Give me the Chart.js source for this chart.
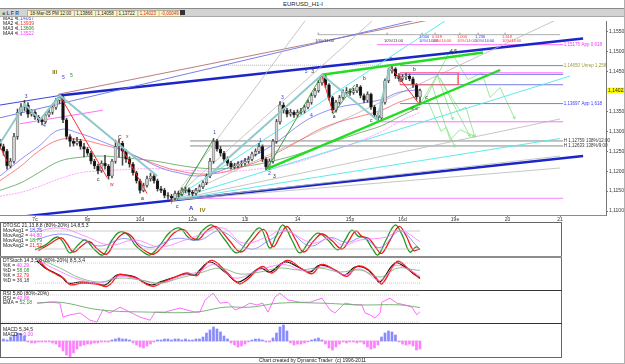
<!DOCTYPE html>
<html>
<head>
<meta charset="utf-8">
<title>EURUSD_H1-I</title>
<script src="https://cdn.jsdelivr.net/npm/chart.js@4.4.1/dist/chart.umd.min.js"></script>
<style>
  body { margin: 0; background: #fff; }
  #wrap { position: relative; width: 625px; height: 364px; overflow: hidden; background: #fff;
          font-family: "Liberation Sans", Arial, sans-serif; }
  #wrap div, #wrap canvas { position: absolute; }
  .tiny { font-size: 5px; line-height: 6px; white-space: nowrap; color: #222; }
</style>
</head>
<body>
<div id="wrap">
  <div class="tiny" style="left:0;top:1px;width:606px;text-align:center;font-size:6px;">EURUSD_H1-I</div>
  <div style="left:0;top:8px;width:625px;height:1px;background:#8a8a8a"></div>
  <div style="left:0;top:9px;width:625px;height:7px;background:#d3d3d3;border-bottom:1px solid #a8a8a8"></div>
  <div class="tiny" style="left:2px;top:10px;color:#2a4aa8;font-weight:bold"><span style="color:#3a8a3a">&#9632;</span> L F R</div>
  <div class="tiny" style="left:27px;top:10px;width:150px;height:5px;background:#fbf5cc;border:1px solid #b9b195;font-size:4.5px;line-height:5px;padding-left:2px">18-Mar-05 PM 12:00 &nbsp;| 1,13866 &nbsp;| 1,14058 &nbsp;| 1,13722 &nbsp;| <span style="color:#e02020">1,14023 &nbsp;| -0,00049</span></div>
  <div style="left:180px;top:10px;width:5px;height:5px;background:#333"></div>

  <canvas id="main" width="625" height="206" style="left:0;top:17px"></canvas>
  <canvas id="osc1" width="561" height="34" style="left:0;top:223px"></canvas>
  <canvas id="osc2" width="561" height="34" style="left:0;top:257px"></canvas>
  <canvas id="rsi" width="561" height="33" style="left:0;top:291px"></canvas>
  <canvas id="macd" width="561" height="33" style="left:0;top:324px"></canvas>

  <div style="left:0;top:222px;width:560px;height:134px;border:1px solid #666"></div>
  <div style="left:0;top:256px;width:562px;height:2px;background:#8c8c8c"></div>
  <div style="left:0;top:290px;width:562px;height:1px;background:#333"></div>
  <div style="left:0;top:323px;width:562px;height:1px;background:#333"></div>
  <div class="tiny" style="left:0;top:357px;width:625px;text-align:center;">Chart created by Dynamic Trader &nbsp;(c) 1996-2011</div>
  <div style="left:624px;top:0;width:1px;height:364px;background:#b0b0b0"></div>
  <div style="left:0;top:363px;width:625px;height:1px;background:#b0b0b0"></div>
</div>

<script>
// ---- price bars (hourly), one per index ----
const firstOpen = 1.1270;
const closes = [
  1.1262,1.1250,1.1213,1.1225,1.1287,1.1348,1.1361,1.1366,1.1343,1.1348,
  1.1336,1.1329,1.1324,1.1341,1.1348,1.1361,1.1378,1.1385,1.1329,1.1287,
  1.1275,1.1270,1.1275,1.1262,1.1255,1.1245,1.1225,1.1213,1.1201,1.1220,
  1.1213,1.1188,1.1225,1.1262,1.1270,1.1250,1.1230,1.1218,1.1196,1.1176,
  1.1152,1.1164,1.1181,1.1188,1.1176,1.1156,1.1152,1.1139,1.1137,1.1132,
  1.1144,1.1142,1.1152,1.1154,1.1147,1.1144,1.1152,1.1161,1.1171,1.1188,
  1.1225,1.1275,1.1255,1.1245,1.1230,1.1220,1.1211,1.1213,1.1218,1.1220,
  1.1225,1.1230,1.1243,1.1250,1.1262,1.1230,1.1211,1.1225,1.1275,1.1324,
  1.1366,1.1353,1.1343,1.1348,1.1341,1.1348,1.1351,1.1361,1.1373,1.1390,
  1.1402,1.1422,1.1437,1.1417,1.1385,1.1353,1.1373,1.1385,1.1398,1.1402,
  1.1398,1.1402,1.1412,1.1390,1.1378,1.1393,1.1361,1.1341,1.1334,1.1373,
  1.1427,1.1452,1.1457,1.1439,1.1432,1.1437,1.1439,1.1432,1.1417,1.13866,
  1.14023
];
const highs = [
  1.1280,1.1268,1.1255,1.1232,1.1295,1.1356,1.1370,1.1378,1.1372,1.1355,
  1.1352,1.1340,1.1334,1.1346,1.1355,1.1367,1.1383,1.1392,1.1388,1.1333,
  1.1292,1.1282,1.1285,1.1280,1.1270,1.1260,1.1250,1.1230,1.1218,1.1226,
  1.1240,1.1217,1.1230,1.1278,1.1280,1.1275,1.1255,1.1236,1.1222,1.1200,
  1.1180,1.1170,1.1188,1.1195,1.1192,1.1180,1.1162,1.1157,1.1146,1.1142,
  1.1150,1.1150,1.1158,1.1160,1.1158,1.1152,1.1157,1.1166,1.1176,1.1193,
  1.1232,1.1282,1.1280,1.1262,1.1250,1.1236,1.1225,1.1220,1.1224,1.1226,
  1.1232,1.1237,1.1248,1.1256,1.1270,1.1266,1.1234,1.1231,1.1280,1.1330,
  1.1375,1.1372,1.1358,1.1355,1.1352,1.1354,1.1358,1.1366,1.1379,1.1396,
  1.1408,1.1428,1.1443,1.1441,1.1420,1.1388,1.1378,1.1390,1.1404,1.1410,
  1.1407,1.1408,1.1418,1.1415,1.1394,1.1399,1.1396,1.1365,1.1346,1.1378,
  1.1432,1.1458,1.1465,1.1460,1.1445,1.1442,1.1446,1.1444,1.1436,1.1420,
  1.14058
];
const lows = [
  1.1255,1.1240,1.1205,1.1208,1.1220,1.1280,1.1340,1.1352,1.1335,1.1338,
  1.1330,1.1322,1.1316,1.1320,1.1336,1.1343,1.1355,1.1370,1.1322,1.1280,
  1.1262,1.1263,1.1265,1.1255,1.1236,1.1240,1.1218,1.1206,1.1193,1.1197,
  1.1205,1.1180,1.1183,1.1220,1.1235,1.1215,1.1222,1.1210,1.1190,1.1170,
  1.1145,1.1148,1.1160,1.1175,1.1170,1.1150,1.1146,1.1133,1.1130,1.1127,
  1.1128,1.1136,1.1138,1.1146,1.1140,1.1138,1.1140,1.1148,1.1156,1.1166,
  1.1184,1.1220,1.1250,1.1238,1.1224,1.1214,1.1205,1.1206,1.1208,1.1212,
  1.1215,1.1220,1.1226,1.1238,1.1245,1.1224,1.1203,1.1205,1.1220,1.1270,
  1.1318,1.1346,1.1336,1.1338,1.1335,1.1336,1.1343,1.1346,1.1356,1.1368,
  1.1385,1.1398,1.1416,1.1410,1.1378,1.1346,1.1348,1.1368,1.1380,1.1392,
  1.1390,1.1393,1.1397,1.1384,1.1372,1.1373,1.1355,1.1335,1.1328,1.1330,
  1.1368,1.1422,1.1446,1.1433,1.1426,1.1428,1.1430,1.1427,1.1410,1.1380,
  1.13722
];
const lastPrice = 1.14023;

// ---- axes ----
const dayTicks = [10, 25, 40, 55, 70, 85, 100, 115, 130, 145, 160];
const dayLabels = ['7c', '9p', '10d', '12a', '13l', '14', '15p', '16d', '19e', '20', '21'];
const priceTicks = [1.110, 1.115, 1.120, 1.125, 1.130, 1.135, 1.140, 1.145, 1.150, 1.155];

// ---- moving averages (sampled) ----
const maIdx = [0,6,11,17,23,29,34,40,46,51,57,63,69,74,80,86,91,97,103,109,114,120];
const ma1 = [1.1188,1.1230,1.1262,1.1304,1.1294,1.1275,1.1257,1.1233,1.1208,1.1196,1.1188,1.1201,1.1225,1.1245,1.1279,1.1319,1.1343,1.1361,1.1370,1.1380,1.1398,1.1405];
const ma2 = [1.1176,1.1213,1.1250,1.1279,1.1279,1.1267,1.1255,1.1233,1.1213,1.1201,1.1193,1.1196,1.1211,1.1225,1.1250,1.1279,1.1304,1.1324,1.1338,1.1353,1.1373,1.1390];
const ma3 = [1.1152,1.1171,1.1196,1.1225,1.1235,1.1238,1.1235,1.1230,1.1223,1.1215,1.1208,1.1206,1.1211,1.1218,1.1230,1.1245,1.1262,1.1279,1.1297,1.1314,1.1336,1.1361];
const ma4 = [1.1137,1.1147,1.1161,1.1181,1.1196,1.1201,1.1203,1.1206,1.1206,1.1203,1.1201,1.1198,1.1201,1.1206,1.1213,1.1225,1.1240,1.1257,1.1277,1.1299,1.1324,1.1348];
const maLegend = ['1,14057', '1,13939', '1,13606', '1,13522'];

// ---- drawing tools: [index, price] ----
const chanUpperThin = [[0, 1.1366], [17.1, 1.1390]];
const chanUpper = [[17.1, 1.1390], [166.6, 1.1533]];
const chanLower = [[0, 1.1080], [166.6, 1.1238]];
const blueRay = [[0, 1.1334], [120, 1.1582]];
const brownRay = [[16.6, 1.1393], [124, 1.1582]];
const fanOrigin = [49.1, 1.1127];
const fanGrayEnds = [[160, 1.1208], [160, 1.1238], [160, 1.1331], [159.4, 1.1582], [87.1, 1.1577], [106.3, 1.1577]];
const fanCyanEnds = [[162.9, 1.1439], [127.1, 1.1577], [160, 1.1282]];
const greenLower = [[76.3, 1.1206], [142.9, 1.1454]];
const greenUpper = [[92, 1.1442], [138, 1.1498]];
const tealLeft = [[0, 1.1270], [7.1, 1.1368], [11.4, 1.1329], [17.1, 1.1390], [44.9, 1.1188]];
const tealRight = [[58.6, 1.1181], [92, 1.1442], [107.7, 1.1329], [111.4, 1.1464]];
const redLegs = [
  [[0, 1.1262], [2, 1.1225]],
  [[17.1, 1.1390], [30.6, 1.1184]],
  [[33.7, 1.1275], [42, 1.1144]],
  [[92, 1.1439], [95.1, 1.1348]],
  [[111.4, 1.1464], [120, 1.1366]]
];
const redBox = [[114.3, 1.1447], [130.9, 1.1447], [130.9, 1.1417], [114.3, 1.1417]];
const greenLegs = [
  [[50.6, 1.1127], [60.9, 1.1279]],
  [[76.3, 1.1206], [92, 1.1442]],
  [[95.1, 1.1343], [101.4, 1.1417]]
];
const pinkSlope = [[5.7, 1.1319], [29.4, 1.1353]];
const projPaths = [
  [[120, 1.1368], [124.9, 1.1442], [129.4, 1.1329]],
  [[121.1, 1.1373], [128.6, 1.1503], [133.7, 1.1430], [137.7, 1.1447], [140, 1.1385], [142.9, 1.1410], [147.1, 1.1331]],
  [[123.4, 1.1417], [128.6, 1.1279], [131.4, 1.1304], [135.7, 1.1287]],
  [[125.7, 1.1434], [134.3, 1.1287]],
  [[124.9, 1.1442], [131.4, 1.1353], [133.1, 1.1361], [135.7, 1.1285]],
  [[122, 1.1380], [126, 1.1300], [127.5, 1.1310], [130, 1.1260]]
];
const dottedLevel = [[62.9, 1.1466], [114.3, 1.1466]];
const projBase = [[90.9, 1.15427], [160, 1.15427]];

// ---- horizontal levels ----
const levelPrices = [1.15175, 1.1465, 1.1447, 1.1443, 1.1417, 1.13697, 1.1324, 1.12759, 1.12633, 1.1132];
const levelFrom = [107.7, 114.3, 114.3, 114.3, 114.3, 114.3, 108.6, 54.3, 54.3, 54.3];
const levelTo = 160.9;
const levelLabels = ['1,15175 App 0,618', '1,14650 Unrep 1,258', '', '', '', '1,13697 App 1,618', '', 'H 1,12759 138%/12:00', 'H 1,12633 138%/9:00', ''];

// ---- time projection markers ----
const projX = [90.9, 110.6, 120.6, 124.3, 131.4, 136.6, 144.3];
const projTop = ['', '', '1,000', '0,618', '1,000', '1,236', '1,618'];
const projBottom = ['10%/11:00', '10%/11:00', '10%/14:00', '10%/14:00', '10%/14:00', '10%/14:00', '10%/14:00'];

// ---- wave labels ----
const waveText = ['3','4','III','5','5','c','w','C','x','a','Y','c','A','IV','1','1','2','3','3','4','5','3','a','b','c','5','a','b','c','abc','4 5'];
const waveX = [7.1,12.3,14.9,17.7,20,27.7,31.4,33.7,36,40.3,48.6,50.3,54,57.1,60.9,74,76.6,78,80.3,88.6,87.1,88.9,95.1,103.7,105.7,111.4,114.3,118,121.5,117.2,128.6];
const waveY = [1.1388,1.1314,1.1447,1.1434,1.1439,1.1179,1.1166,1.1284,1.1287,1.1132,1.1120,1.1112,1.1107,1.1102,1.1297,1.1277,1.1193,1.1186,1.1385,1.1339,1.1449,1.1449,1.1336,1.1432,1.1326,1.1481,1.1427,1.1454,1.1385,1.1356,1.1501];

// ---- DTOSC panel ----
const oscFastIdx = [10,12.9,16.3,18,20,22.3,24.3,27.1,29.4,32,34.3,36.6,38.6,40.9,42.9,45.7,48.6,51.4,53.7,55.7,58,60.6,64.3,67.7,70.9,74.3,77.1,78.9,80.9,83.4,85.7,88.6,90.9,93.7,96.6,98.6,100.6,102.3,104.3,106.3,108,110.3,112.9,114.9,117.1,118.9,120];
const oscFast = [17,33,60,43,7,33,50,17,0,50,77,67,33,10,0,33,77,90,60,50,83,100,50,7,50,90,23,63,100,50,7,50,73,50,17,50,83,63,57,23,0,50,100,67,10,27,18.79];
const oscSlowIdx = [11,14,17.5,19,21,23.3,25.5,28,30.5,33,35.5,37.5,39.5,42,44,46.8,49.7,52.5,54.8,56.8,59,61.7,65.4,68.8,72,75.4,78,80,82,84.5,86.8,89.7,92,94.8,97.7,99.7,101.7,103.4,105.4,107.4,109,111.4,114,116,118.2,120];
const oscSlow = [15,35,57,40,10,30,45,18,3,47,73,63,32,10,3,33,73,85,58,52,80,95,50,10,48,85,28,62,95,50,10,48,70,48,20,48,80,62,55,25,5,48,95,65,15,21.52];
const oscAvg1Idx = [10,17.1,22.9,28.6,35.7,42.9,50,57.1,62.9,71.4,77.1,82,88.6,94.3,99.1,103.7,108.6,114.3,119.1,120];
const oscAvg1 = [50,70,55,30,55,25,55,50,80,20,50,80,30,58,42,58,25,80,30,18.75];
const oscAvg2Idx = [10,17.1,24.3,31.4,38.6,45.7,52.9,57.1,63.7,69.4,76.3,80.9,89.4,94.3,98,102.9,110.6,114.3,120];
const oscAvg2 = [77,90,63,33,50,27,50,67,90,40,60,83,40,57,33,50,60,83,44.8];

// ---- DTStoch panel ----
const stDIdx = [10.6,12.9,15.7,17.7,19.4,22.9,27.1,30,32.3,33.4,35.7,38.6,40.9,43.4,45.7,50,52.9,55.7,57.1,60,64.3,67.7,70,74.3,77.1,81.4,85.7,88.6,91.4,95.7,98.6,101.4,104.3,107.1,108.6,112.9,115.7,118.6,120];
const stD = [86,65,50,38,20,23,20,14,35,44,44,38,23,14,23,38,47,44,59,83,53,23,32,65,53,83,65,53,74,59,44,68,65,38,23,80,68,44,36.18];
const stKIdx = [11,13.5,16.3,18.3,20,23.5,27.7,30.6,32.9,34,36.3,39.2,41.5,44,46.3,50.6,53.5,56.3,57.7,60.6,65,68.3,70.6,75,77.7,82,86.3,89.2,92,96.3,99.2,102,105,107.7,109.2,113.5,116.3,119.2,120];
const stK = [90,62,45,33,15,20,17,10,33,46,42,34,18,10,22,40,50,42,62,88,50,18,30,70,50,88,62,48,76,55,40,70,62,32,18,85,66,40,32.79];
const stSlowDIdx = [10.6,17.1,22.9,28.6,34.3,40,45.7,51.4,57.1,62.9,68.6,74.3,80,85.7,91.4,97.1,102.9,108.6,113.7,118.6,120];
const stSlowD = [95,65,35,23,35,29,20,35,50,65,47,53,65,59,65,53,59,38,65,59,58.08];
const stSlowKIdx = [10.6,17.1,22.9,28.6,34.3,40,45.7,51.4,57.1,61.4,67.1,74.3,81.4,87.1,92.9,98.6,102.9,108.6,112.9,117.1,120];
const stSlowK = [90,55,30,20,40,30,18,40,55,75,35,60,75,55,68,45,62,28,72,58,40.29];

// ---- RSI panel ----
const rsiIdx = [10.6,14.3,17.1,18,20,22.9,25.7,27.7,29.4,31.4,34.3,37.1,40,42.9,44.3,47.1,51.4,55.7,57.1,58.6,60.9,62.9,65.1,67.1,69.4,71.4,73.4,75.1,76.6,78.6,80,82.3,85.7,88.6,92,94.3,95.7,98.6,101.4,103.4,104.3,105.7,107.1,108.6,109.1,111.4,113.4,115.7,117.7,119.1,120];
const rsiVals = [62,64,62,31,36,40,24,20,47,40,53,42,31,24,42,42,51,42,42,69,84,62,64,47,53,62,58,62,42,76,84,69,64,64,73,47,40,62,58,58,40,36,29,40,64,73,62,58,53,36,42.86];
const emaIdx = [10.6,17.1,28.6,42.9,55.7,64.3,71.4,80,91.4,102.9,114.3,120];
const emaVals = [62,64,47,42,42,53,53,62,62,58,58,52.18];

// ---- MACD histogram, one per bar ----
const macdHist = [
  0.0001,0.0002,0.0001,
  0.0004,0.0006,0.0008,0.0007,0.0005,
  -0.0001,-0.0002,-0.0002,-0.0001,-0.0001,-0.0001,
  -0.0001,-0.0002,-0.0003,
  -0.0006,-0.0010,-0.0014,-0.0016,-0.0012,-0.0008,-0.0005,
  -0.0004,-0.0003,-0.0003,-0.0002,-0.0002,-0.0001,-0.0001,-0.0001,
  0.0001,0.0002,0.0003,0.0002,0.0002,0.0001,
  -0.0002,-0.0004,-0.0006,-0.0007,-0.0005,-0.0003,-0.0001,
  0.0001,0.0001,0.0002,0.0002,0.0001,0.0002,0.0002,0.0001,0.0002,0.0001,0.0001,0.0002,0.0002,
  0.0004,0.0008,0.0011,0.0014,0.0012,0.0009,0.0005,0.0002,
  -0.0002,-0.0004,-0.0006,-0.0005,-0.0003,-0.0001,
  0.0001,0.0002,0.0002,0.0001,
  -0.0001,-0.0001,
  0.0003,0.0008,0.0014,0.0016,0.0010,
  -0.0002,-0.0004,-0.0003,-0.0003,-0.0002,-0.0001,
  0.0001,0.0002,0.0003,0.0001,
  -0.0003,-0.0007,-0.0009,-0.0006,-0.0003,
  -0.0001,-0.0002,-0.0001,-0.0001,-0.0002,-0.0001,
  -0.0003,-0.0006,-0.0008,-0.0007,-0.0004,
  0.0004,0.0008,0.0010,0.0009,0.0006,
  -0.0001,-0.0003,-0.0004,-0.0003,-0.0005,-0.0009,-0.0008
];

// ================= drawing =================
const FONT = '"Liberation Sans", Arial, sans-serif';
Chart.defaults.font.family = FONT;

function zip(xs, ys) { return xs.map((x, i) => ({ x: x, y: ys[i] })); }
function seg(p) { return p.map(a => ({ x: a[0], y: a[1] })); }
function line(data, color, width, extra) {
  return Object.assign({
    type: 'line', data: data, borderColor: color, borderWidth: width,
    pointRadius: 0, fill: false, tension: 0, order: 3
  }, extra || {});
}

const opens = closes.map((c, i) => i === 0 ? firstOpen : closes[i - 1]);
const bodies = closes.map((c, i) => ({ x: i, y: [opens[i], c] }));
const wicks = closes.map((c, i) => ({ x: i, y: [lows[i], highs[i]] }));
const bodyFill = closes.map((c, i) => c >= opens[i] ? '#cfcfcf' : '#101010');

const mainSets = [];
// moving averages
mainSets.push(line(zip(maIdx, ma1), '#7474ff', 0.8, { tension: 0.4 }));
mainSets.push(line(zip(maIdx, ma2), '#ff6060', 0.8, { tension: 0.4 }));
mainSets.push(line(zip(maIdx, ma3), '#5aa05a', 0.8, { tension: 0.4 }));
mainSets.push(line(zip(maIdx, ma4), '#ff8cff', 0.8, { tension: 0.4, borderDash: [2, 1] }));
// fans from the low
fanGrayEnds.forEach(e => mainSets.push(line(seg([fanOrigin, e]), '#b8b8b8', 0.8)));
fanCyanEnds.forEach(e => mainSets.push(line(seg([fanOrigin, e]), '#4ee6e6', 0.9)));
// rays and channel
mainSets.push(line(seg(blueRay), '#6a72e8', 0.9));
mainSets.push(line(seg(brownRay), '#b07070', 0.9));
mainSets.push(line(seg(chanUpperThin), '#3a46dd', 1));
mainSets.push(line(seg(chanUpper), '#1a26c8', 2.4));
mainSets.push(line(seg(chanLower), '#1a26c8', 2.4));
mainSets.push(line(seg(pinkSlope), '#ff70ff', 1));
// levels
const levelColors = ['#ff70ff', '#7a7ae8', '#ff70ff', '#7a7ae8', '#7a7ae8', '#7a7ae8', '#ff70ff', '#8a8a8a', '#8a8a8a', '#ff80ff'];
levelPrices.forEach((p, i) => mainSets.push(line(seg([[levelFrom[i], p], [levelTo, p]]), levelColors[i], 1)));
mainSets.push(line(seg(dottedLevel), '#9a9a9a', 0.8, { borderDash: [1, 1] }));
mainSets.push(line(seg(projBase), '#9a9a9a', 0.8));
// projections
projPaths.forEach(p => mainSets.push(line(seg(p), '#8fe88f', 0.9)));
// candles
mainSets.push({ type: 'bar', data: wicks, backgroundColor: '#444', barThickness: 0.9, grouped: false, order: 2 });
mainSets.push({ type: 'bar', data: bodies, backgroundColor: bodyFill, borderColor: '#333', borderWidth: 0.5,
  borderSkipped: false, barThickness: 2.8, grouped: false, order: 1.5 });
// swing lines drawn over candles
mainSets.push(line(seg(tealLeft), '#8fc9c9', 2, { order: 1 }));
mainSets.push(line(seg(tealRight), '#8fc9c9', 2, { order: 1 }));
redLegs.forEach(p => mainSets.push(line(seg(p), '#ff2a2a', 1, { order: 1 })));
mainSets.push(line(seg(redBox.concat([redBox[0]])), '#ff5a5a', 0.8, { order: 1 }));
greenLegs.forEach(p => mainSets.push(line(seg(p), '#2a9a2a', 0.9, { order: 1 })));
mainSets.push(line(seg(greenLower), '#22dd22', 2.4, { order: 1 }));
mainSets.push(line(seg(greenUpper), '#22dd22', 2.4, { order: 1 }));

const waveColors = ['#3a3ad0','#3a3ad0','#8a7a10','#3a3ad0','#2a8a2a','#222','#e02020','#222','#e02020','#222',
  '#e02020','#222','#2a2ae0','#8a7a10','#3a3ad0','#3a3ad0','#3a3ad0','#222','#3a3ad0','#3a3ad0',
  '#3a3ad0','#222','#222','#222','#222','#3a3ad0','#222','#222','#222','#2a8a2a','#222'];
const levelLabelColors = ['#ff30ff', '#9a9a40', '', '', '', '#3a3aff', '', '#333', '#333', ''];
const projColors = ['#333', '#333', '#3333ff', '#ff3333', '#ff3333', '#3333ff', '#ff3333'];
const maColors = ['#4444ff', '#ff3030', '#2a8a2a', '#ff44ff'];

const mainText = {
  id: 'mainText',
  afterDatasetsDraw(chart) {
    const ctx = chart.ctx, x = chart.scales.x, y = chart.scales.y;
    ctx.save();
    ctx.textBaseline = 'middle';
    // level labels
    ctx.font = '4.5px ' + FONT;
    levelLabels.forEach((t, i) => {
      if (!t) return;
      ctx.fillStyle = levelLabelColors[i];
      ctx.fillText(t, x.getPixelForValue(161.1), y.getPixelForValue(levelPrices[i]));
    });
    // projection markers
    const by = y.getPixelForValue(projBase[0][1]);
    projX.forEach((v, i) => {
      const px = x.getPixelForValue(v);
      ctx.strokeStyle = '#777'; ctx.lineWidth = 0.8;
      ctx.beginPath(); ctx.moveTo(px, by - 2); ctx.lineTo(px, by); ctx.stroke();
      ctx.fillStyle = projColors[i];
      ctx.font = '4px ' + FONT;
      if (projTop[i]) ctx.fillText(projTop[i], px - 3, by + 2.5);
      ctx.fillText(projBottom[i], px - 3, by + 6.5);
    });
    // arrow tips on projection paths
    ctx.strokeStyle = '#8fe88f'; ctx.lineWidth = 0.9;
    projPaths.forEach(p => {
      const a = p[p.length - 2], b = p[p.length - 1];
      const x1 = x.getPixelForValue(a[0]), y1 = y.getPixelForValue(a[1]);
      const x2 = x.getPixelForValue(b[0]), y2 = y.getPixelForValue(b[1]);
      const ang = Math.atan2(y2 - y1, x2 - x1);
      ctx.beginPath();
      ctx.moveTo(x2 - 3 * Math.cos(ang - 0.5), y2 - 3 * Math.sin(ang - 0.5));
      ctx.lineTo(x2, y2);
      ctx.lineTo(x2 - 3 * Math.cos(ang + 0.5), y2 - 3 * Math.sin(ang + 0.5));
      ctx.stroke();
    });
    // wave labels
    waveText.forEach((t, i) => {
      ctx.fillStyle = waveColors[i];
      const big = t === 'A' || t === 'III' || t === 'IV';
      ctx.font = (big ? 'bold 6px ' : '5px ') + FONT;
      ctx.fillText(t, x.getPixelForValue(waveX[i]), y.getPixelForValue(waveY[i]));
    });
    // MA legend
    ctx.font = '5px ' + FONT;
    maLegend.forEach((v, i) => {
      const ty = 1.5 + i * 5;
      ctx.fillStyle = '#222';
      ctx.fillText('MA' + (i + 1) + ' =', 3, ty);
      ctx.fillStyle = maColors[i];
      ctx.fillText(v, 16, ty);
    });
    ctx.restore();
  },
  afterDraw(chart) {
    const ctx = chart.ctx, y = chart.scales.y;
    const py = y.getPixelForValue(lastPrice);
    ctx.save();
    ctx.fillStyle = '#ffff00';
    ctx.fillRect(607, py - 3, 18, 6);
    ctx.fillStyle = '#222';
    ctx.font = '5px ' + FONT;
    ctx.textBaseline = 'middle';
    ctx.fillText(lastPrice.toFixed(5).replace('.', ','), 608, py);
    ctx.restore();
  }
};

new Chart(document.getElementById('main'), {
  type: 'bar',
  data: { datasets: mainSets },
  options: {
    responsive: false, animation: false, events: [],
    layout: { padding: 0 },
    plugins: { legend: { display: false }, tooltip: { enabled: false } },
    scales: {
      x: {
        type: 'linear', min: 0, max: 173.14, offset: false, position: 'bottom',
        afterBuildTicks: s => { s.ticks = dayTicks.map(v => ({ value: v })); },
        afterFit: s => { s.height = 8; },
        ticks: { callback: v => dayLabels[dayTicks.indexOf(v)], font: { size: 5 }, color: '#333',
                 padding: 0, maxRotation: 0, autoSkip: false },
        grid: { drawOnChartArea: false, tickLength: 2, color: '#888', offset: false },
        border: { color: '#8a8a8a' }
      },
      y: {
        position: 'right', min: 1.109, max: 1.1577, beginAtZero: false,
        afterBuildTicks: s => { s.ticks = priceTicks.map(v => ({ value: v })); },
        afterFit: s => { s.width = 19; },
        ticks: { callback: v => v.toFixed(5).replace('.', ','), font: { size: 5 }, color: '#333', padding: 1 },
        grid: { drawOnChartArea: false, tickLength: 2, color: '#777' },
        border: { color: '#777' }
      }
    }
  },
  plugins: [mainText]
});

// ---- indicator panels ----
function rowsPlugin(rows) {
  return {
    id: 'rows',
    afterDraw(chart) {
      const ctx = chart.ctx;
      ctx.save();
      ctx.font = '5px ' + FONT;
      ctx.textBaseline = 'middle';
      rows.forEach(r => {
        let px = 3;
        r[1].forEach(part => {
          ctx.fillStyle = part[1];
          ctx.fillText(part[0], px, r[0]);
          px += ctx.measureText(part[0]).width;
        });
      });
      ctx.restore();
    }
  };
}

function panel(id, yMin, yMax, datasets, rows) {
  return new Chart(document.getElementById(id), {
    type: 'line',
    data: { datasets: datasets },
    options: {
      responsive: false, animation: false, events: [],
      layout: { padding: 0 },
      plugins: { legend: { display: false }, tooltip: { enabled: false } },
      scales: {
        x: { type: 'linear', display: false, min: 0, max: 160.3, offset: false },
        y: { display: false, min: yMin, max: yMax }
      }
    },
    plugins: [rowsPlugin(rows)]
  });
}

const smooth = { tension: 0.4 };

panel('osc1', -6.7, 106.7, [
  line(seg([[10, 80], [120, 80]]), '#bdbdbd', 0.8),
  line(seg([[10, 20], [120, 20]]), '#bdbdbd', 0.8),
  line(zip(oscAvg2Idx, oscAvg2), '#ff7aff', 0.8, smooth),
  line(zip(oscAvg1Idx, oscAvg1), '#7a7aff', 0.8, smooth),
  line(zip(oscSlowIdx, oscSlow), '#e81e1e', 1.3, smooth),
  line(zip(oscFastIdx, oscFast), '#229922', 1.3, smooth)
], [
  [2.5, [['DTOSC 21,13,8,8 (80%-20%) 14,8,5,3', '#222']]],
  [7.5, [['MovAvg1 = ', '#222'], ['18,75', '#4444ff']]],
  [12.5, [['MovAvg2 = ', '#222'], ['44,80', '#ff33ff']]],
  [17.5, [['MovAvg1 = ', '#222'], ['18,79', '#22992a']]],
  [22.5, [['MovAvg2 = ', '#222'], ['21,52', '#ff2020']]]
]);

panel('osc2', -4, 98, [
  line(seg([[10, 80], [120, 80]]), '#bdbdbd', 0.8, { borderDash: [1, 1] }),
  line(seg([[10, 20], [120, 20]]), '#bdbdbd', 0.8, { borderDash: [1, 1] }),
  line(zip(stSlowDIdx, stSlowD), '#70b070', 0.8, smooth),
  line(zip(stSlowKIdx, stSlowK), '#ff70ff', 0.8, smooth),
  line(zip(stKIdx, stK), '#ff1a1a', 1.3, smooth),
  line(zip(stDIdx, stD), '#111', 1.2, smooth)
], [
  [4, [['DTStoch 14,3,5,8 (80%-20%) 8,5,3,4', '#222']]],
  [9, [['%K = ', '#222'], ['40,29', '#ff33ff']]],
  [14, [['%D = ', '#222'], ['58,08', '#22992a']]],
  [19, [['%K = ', '#222'], ['32,79', '#ff2020']]],
  [24, [['%D = ', '#222'], ['36,18', '#444']]]
]);

panel('rsi', 15.6, 88.9, [
  line(seg([[0, 80], [120, 80]]), '#c4c4c4', 0.8, { borderDash: [1, 1] }),
  line(seg([[0, 20], [120, 20]]), '#c4c4c4', 0.8, { borderDash: [1, 1] }),
  line(zip(emaIdx, emaVals), '#6aaa6a', 0.9, smooth),
  line(zip(rsiIdx, rsiVals), '#ff5cff', 0.9)
], [
  [3, [['RSI 5,80 (80%-20%)', '#222']]],
  [7.5, [['RSI = ', '#222'], ['42,86', '#ff33ff']]],
  [12, [['EMA = ', '#222'], ['52,18', '#22992a']]]
]);

panel('macd', -0.0016, 0.0017, [
  line(seg([[0, 0], [120, 0]]), '#c4c4c4', 0.8, { borderDash: [1, 1] }),
  { type: 'bar', data: macdHist.map((v, i) => ({ x: i, y: v })),
    backgroundColor: macdHist.map(v => v >= 0 ? '#8a8aff' : '#ff80ff'),
    barThickness: 2, grouped: false, order: 1 }
], [
  [6, [['MACD 5,34,5', '#222']]],
  [11, [['MACD = ', '#222'], ['0,00', '#ff33ff']]]
]);
</script>
</body>
</html>
